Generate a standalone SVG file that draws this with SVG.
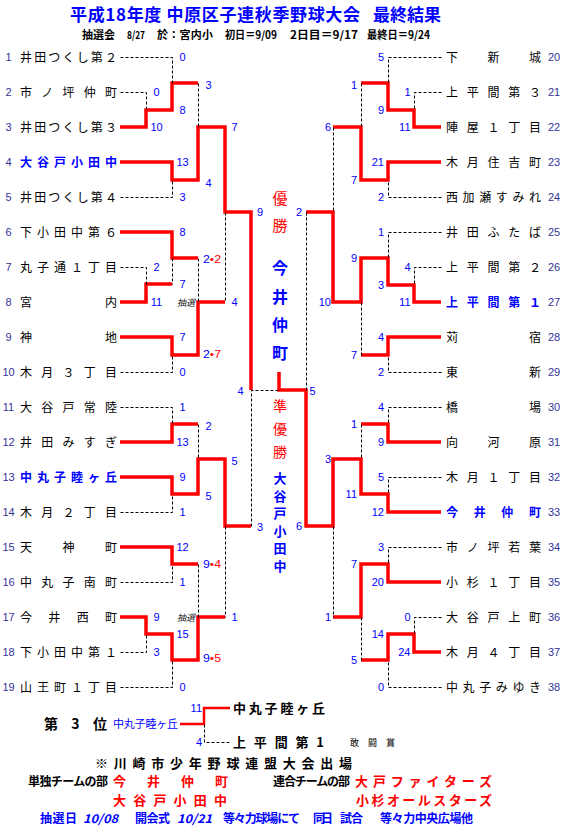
<svg xmlns="http://www.w3.org/2000/svg" width="574" height="831" viewBox="0 0 574 831">
<style>
.num{font-family:"Liberation Sans",Arial,sans-serif;font-size:11px;fill:#333399;text-anchor:middle}
.nm{font-family:"Noto Sans CJK JP",sans-serif;font-size:12px;fill:#000}
.hl{fill:#00f;font-weight:bold}
.sc{font-family:"Liberation Sans",Arial,sans-serif;font-size:11px;fill:#00f}
.m{text-anchor:middle}
.e{text-anchor:end}
.rd{fill:#f00}
.win{fill:none;stroke:#f00;stroke-width:3.5;stroke-linejoin:miter}
.lose{fill:none;stroke:#000;stroke-width:1;stroke-dasharray:3 2}
.lot{font-family:"Noto Sans CJK JP",sans-serif;font-size:9px;font-style:italic;fill:#222;text-anchor:middle}
.title{font-family:"Noto Sans CJK JP",sans-serif;font-size:17px;font-weight:bold;fill:#00f}
.sub{font-family:"Noto Sans CJK JP",sans-serif;font-size:11px;font-weight:bold;fill:#000}
.vt{font-family:"Noto Sans CJK JP",sans-serif;text-anchor:middle}
.bt{font-family:"Noto Sans CJK JP",sans-serif;font-weight:bold}
</style>
<rect width="574" height="831" fill="#fff"/>

<g id="header">
<text class="title" x="70" y="21" textLength="290" lengthAdjust="spacing">平成18年度 中原区子連秋季野球大会</text>
<text class="title" x="373" y="21" textLength="68" lengthAdjust="spacing">最終結果</text>
<text class="sub" x="82" y="39" textLength="33" lengthAdjust="spacing">抽選会</text>
<text class="sub" x="127" y="39" textLength="18" lengthAdjust="spacingAndGlyphs">8/27</text>
<text class="sub" x="157" y="39" textLength="56" lengthAdjust="spacing">於：宮内小</text>
<text class="sub" x="225" y="39" textLength="52" lengthAdjust="spacingAndGlyphs">初日＝9/09</text>
<text class="sub" x="290" y="39" textLength="68" lengthAdjust="spacingAndGlyphs">2日目＝9/17</text>
<text class="sub" x="367" y="39" textLength="63" lengthAdjust="spacingAndGlyphs">最終日＝9/24</text>
</g>

<g id="connectors">
<g id="winner-lines">
<path class="win" d="M120,127H146V110H172V83H198"/>
<path class="win" d="M120,162H172V180H198V127H225V212H251V390"/>
<path class="win" d="M120,232H172V258H198"/>
<path class="win" d="M120,302H146V284H172"/>
<path class="win" d="M120,337H172V355H198V302H225"/>
<path class="win" d="M120,442H172V424H198"/>
<path class="win" d="M120,477H172V494H198V459H225V526H251"/>
<path class="win" d="M120,547H172V564H198"/>
<path class="win" d="M120,617H146V634H172V660H198V617H225"/>
<path class="win" d="M279,372V390H306V526H333V459H361V494H388V512H441"/>
<path class="win" d="M441,127H414V110H388V83H361"/>
<path class="win" d="M441,162H388V180H361V127H333"/>
<path class="win" d="M441,302H414V285H388V258H361V302H333V212H306"/>
<path class="win" d="M441,337H388V355H361"/>
<path class="win" d="M441,442H388V424H361"/>
<path class="win" d="M441,582H388V564H361V617H333"/>
<path class="win" d="M441,652H414V634H388V660H361"/>
<path class="win" style="stroke-width:2.5" d="M180,724H204V708H230"/>
</g>
<g id="loser-lines" transform="translate(0.5,0.5)">
<path class="lose" d="M120,57H172V83"/>
<path class="lose" d="M120,92H146V110"/>
<path class="lose" d="M120,197H172V180"/>
<path class="lose" d="M198,83V127"/>
<path class="lose" d="M225,212V302"/>
<path class="lose" d="M120,267H146V284"/>
<path class="lose" d="M172,258V284"/>
<path class="lose" d="M120,372H172V355"/>
<path class="lose" d="M198,258V302"/>
<path class="lose" d="M251,526V390H279"/>
<path class="lose" d="M120,407H172V424"/>
<path class="lose" d="M120,512H172V494"/>
<path class="lose" d="M198,424V459"/>
<path class="lose" d="M225,526V617"/>
<path class="lose" d="M120,582H172V564"/>
<path class="lose" d="M120,652H146V634"/>
<path class="lose" d="M120,687H172V660"/>
<path class="lose" d="M198,564V617"/>
<path class="lose" d="M441,57H388V83"/>
<path class="lose" d="M441,92H414V110"/>
<path class="lose" d="M441,197H388V180"/>
<path class="lose" d="M361,83V127"/>
<path class="lose" d="M333,127V212"/>
<path class="lose" d="M306,212V390"/>
<path class="lose" d="M441,232H388V258"/>
<path class="lose" d="M441,267H414V285"/>
<path class="lose" d="M441,372H388V355"/>
<path class="lose" d="M361,302V355"/>
<path class="lose" d="M441,407H388V424"/>
<path class="lose" d="M441,477H388V494"/>
<path class="lose" d="M361,424V459"/>
<path class="lose" d="M333,526V617"/>
<path class="lose" d="M441,547H388V564"/>
<path class="lose" d="M441,617H414V634"/>
<path class="lose" d="M441,687H388V660"/>
<path class="lose" d="M361,617V660"/>
<path class="lose" d="M204,724V742H230"/>
</g>
</g>

<g id="teams-left">
<g id="t1"><text class="num" x="8.5" y="61">1</text><text class="nm" x="20" y="61.5" textLength="97" lengthAdjust="spacing">井田つくし第２</text></g>
<g id="t2"><text class="num" x="8.5" y="96">2</text><text class="nm" x="20" y="96.5" textLength="97" lengthAdjust="spacing">市ノ坪仲町</text></g>
<g id="t3"><text class="num" x="8.5" y="131">3</text><text class="nm" x="20" y="131.5" textLength="97" lengthAdjust="spacing">井田つくし第３</text></g>
<g id="t4"><text class="num" x="8.5" y="166">4</text><text class="nm hl" x="20" y="166.5" textLength="97" lengthAdjust="spacing">大谷戸小田中</text></g>
<g id="t5"><text class="num" x="8.5" y="201">5</text><text class="nm" x="20" y="201.5" textLength="97" lengthAdjust="spacing">井田つくし第４</text></g>
<g id="t6"><text class="num" x="8.5" y="236">6</text><text class="nm" x="20" y="236.5" textLength="97" lengthAdjust="spacing">下小田中第６</text></g>
<g id="t7"><text class="num" x="8.5" y="271">7</text><text class="nm" x="20" y="271.5" textLength="97" lengthAdjust="spacing">丸子通１丁目</text></g>
<g id="t8"><text class="num" x="8.5" y="306">8</text><text class="nm" x="20" y="306.5" textLength="97" lengthAdjust="spacing">宮内</text></g>
<g id="t9"><text class="num" x="8.5" y="341">9</text><text class="nm" x="20" y="341.5" textLength="97" lengthAdjust="spacing">神地</text></g>
<g id="t10"><text class="num" x="8.5" y="376">10</text><text class="nm" x="20" y="376.5" textLength="97" lengthAdjust="spacing">木月３丁目</text></g>
<g id="t11"><text class="num" x="8.5" y="411">11</text><text class="nm" x="20" y="411.5" textLength="97" lengthAdjust="spacing">大谷戸常陸</text></g>
<g id="t12"><text class="num" x="8.5" y="446">12</text><text class="nm" x="20" y="446.5" textLength="97" lengthAdjust="spacing">井田みすぎ</text></g>
<g id="t13"><text class="num" x="8.5" y="481">13</text><text class="nm hl" x="20" y="481.5" textLength="97" lengthAdjust="spacing">中丸子睦ヶ丘</text></g>
<g id="t14"><text class="num" x="8.5" y="516">14</text><text class="nm" x="20" y="516.5" textLength="97" lengthAdjust="spacing">木月２丁目</text></g>
<g id="t15"><text class="num" x="8.5" y="551">15</text><text class="nm" x="20" y="551.5" textLength="97" lengthAdjust="spacing">天神町</text></g>
<g id="t16"><text class="num" x="8.5" y="586">16</text><text class="nm" x="20" y="586.5" textLength="97" lengthAdjust="spacing">中丸子南町</text></g>
<g id="t17"><text class="num" x="8.5" y="621">17</text><text class="nm" x="20" y="621.5" textLength="97" lengthAdjust="spacing">今井西町</text></g>
<g id="t18"><text class="num" x="8.5" y="656">18</text><text class="nm" x="20" y="656.5" textLength="97" lengthAdjust="spacing">下小田中第１</text></g>
<g id="t19"><text class="num" x="8.5" y="691">19</text><text class="nm" x="20" y="691.5" textLength="97" lengthAdjust="spacing">山王町１丁目</text></g>
</g>

<g id="teams-right">
<g id="t20"><text class="nm" x="446" y="61.5" textLength="95" lengthAdjust="spacing">下新城</text><text class="num" x="554" y="61">20</text></g>
<g id="t21"><text class="nm" x="446" y="96.5" textLength="95" lengthAdjust="spacing">上平間第３</text><text class="num" x="554" y="96">21</text></g>
<g id="t22"><text class="nm" x="446" y="131.5" textLength="95" lengthAdjust="spacing">陣屋１丁目</text><text class="num" x="554" y="131">22</text></g>
<g id="t23"><text class="nm" x="446" y="166.5" textLength="95" lengthAdjust="spacing">木月住吉町</text><text class="num" x="554" y="166">23</text></g>
<g id="t24"><text class="nm" x="446" y="201.5" textLength="95" lengthAdjust="spacing">西加瀬すみれ</text><text class="num" x="554" y="201">24</text></g>
<g id="t25"><text class="nm" x="446" y="236.5" textLength="95" lengthAdjust="spacing">井田ふたば</text><text class="num" x="554" y="236">25</text></g>
<g id="t26"><text class="nm" x="446" y="271.5" textLength="95" lengthAdjust="spacing">上平間第２</text><text class="num" x="554" y="271">26</text></g>
<g id="t27"><text class="nm hl" x="446" y="306.5" textLength="95" lengthAdjust="spacing">上平間第１</text><text class="num" x="554" y="306">27</text></g>
<g id="t28"><text class="nm" x="446" y="341.5" textLength="95" lengthAdjust="spacing">苅宿</text><text class="num" x="554" y="341">28</text></g>
<g id="t29"><text class="nm" x="446" y="376.5" textLength="95" lengthAdjust="spacing">東新</text><text class="num" x="554" y="376">29</text></g>
<g id="t30"><text class="nm" x="446" y="411.5" textLength="95" lengthAdjust="spacing">橋場</text><text class="num" x="554" y="411">30</text></g>
<g id="t31"><text class="nm" x="446" y="446.5" textLength="95" lengthAdjust="spacing">向河原</text><text class="num" x="554" y="446">31</text></g>
<g id="t32"><text class="nm" x="446" y="481.5" textLength="95" lengthAdjust="spacing">木月１丁目</text><text class="num" x="554" y="481">32</text></g>
<g id="t33"><text class="nm hl" x="446" y="516.5" textLength="95" lengthAdjust="spacing">今井仲町</text><text class="num" x="554" y="516">33</text></g>
<g id="t34"><text class="nm" x="446" y="551.5" textLength="95" lengthAdjust="spacing">市ノ坪若葉</text><text class="num" x="554" y="551">34</text></g>
<g id="t35"><text class="nm" x="446" y="586.5" textLength="95" lengthAdjust="spacing">小杉１丁目</text><text class="num" x="554" y="586">35</text></g>
<g id="t36"><text class="nm" x="446" y="621.5" textLength="95" lengthAdjust="spacing">大谷戸上町</text><text class="num" x="554" y="621">36</text></g>
<g id="t37"><text class="nm" x="446" y="656.5" textLength="95" lengthAdjust="spacing">木月４丁目</text><text class="num" x="554" y="656">37</text></g>
<g id="t38"><text class="nm" x="446" y="691.5" textLength="95" lengthAdjust="spacing">中丸子みゆき</text><text class="num" x="554" y="691">38</text></g>
</g>

<g id="scores-left" class="sc m">
<text x="182.5" y="61">0</text><text x="156.5" y="96">0</text><text x="156.5" y="131">10</text><text x="182.5" y="114">8</text><text x="208.5" y="89">3</text>
<text x="182.5" y="166">13</text><text x="182.5" y="201">3</text><text x="208.5" y="187">4</text><text x="234.5" y="131">7</text><text x="260" y="216">9</text>
<text x="182.5" y="236">8</text><text x="156.5" y="271">2</text><text x="156.5" y="306">11</text><text x="182.5" y="288">7</text>
<text x="182.5" y="341">7</text><text x="182.5" y="376">0</text><text x="234.5" y="306">4</text>
<text x="182.5" y="411">1</text><text x="182.5" y="446">13</text><text x="208.5" y="430">2</text><text x="182.5" y="481">9</text><text x="182.5" y="516">1</text>
<text x="208.5" y="500">5</text><text x="234.5" y="465">5</text><text x="260" y="531">3</text>
<text x="182.5" y="551">12</text><text x="182.5" y="586">1</text><text x="156.5" y="621">9</text><text x="156.5" y="656">3</text><text x="182.5" y="638">15</text>
<text x="182.5" y="691">0</text><text x="234.5" y="621">1</text>
<text x="240.5" y="395">4</text><text x="312.5" y="395">5</text>
</g>
<g id="scores-lottery" class="sc">
<text x="203" y="263" textLength="18" lengthAdjust="spacingAndGlyphs">2<tspan class="rd">•2</tspan></text>
<text x="203" y="358" textLength="18" lengthAdjust="spacingAndGlyphs">2<tspan class="rd">•7</tspan></text>
<text x="203" y="568" textLength="18" lengthAdjust="spacingAndGlyphs">9<tspan class="rd">•4</tspan></text>
<text x="203" y="662" textLength="18" lengthAdjust="spacingAndGlyphs">9<tspan class="rd">•5</tspan></text>
<text class="lot" x="186" y="305.5">抽選</text>
<text class="lot" x="186" y="620.5">抽選</text>
</g>
<g id="scores-right" class="sc e">
<text x="384" y="61">5</text><text x="410.5" y="96">1</text><text x="410.5" y="131">11</text><text x="384" y="114">9</text><text x="357" y="89">1</text>
<text x="384" y="166">21</text><text x="384" y="201">2</text><text x="357" y="184">7</text><text x="331" y="131">6</text><text x="302" y="216">2</text>
<text x="384" y="236">1</text><text x="410.5" y="271">4</text><text x="410.5" y="306">11</text><text x="384" y="289">3</text><text x="357" y="262">9</text>
<text x="384" y="341">4</text><text x="384" y="376">2</text><text x="357" y="359">7</text><text x="331" y="306">10</text>
<text x="384" y="411">4</text><text x="384" y="446">9</text><text x="357" y="428">1</text><text x="384" y="481">5</text><text x="384" y="516">12</text>
<text x="357" y="498">11</text><text x="331" y="463">3</text><text x="302" y="530">6</text>
<text x="384" y="551">3</text><text x="384" y="586">20</text><text x="357" y="568">7</text><text x="410.5" y="621">0</text><text x="410.5" y="656">24</text>
<text x="384" y="638">14</text><text x="384" y="691">0</text><text x="357" y="664">5</text><text x="331" y="621">1</text>
</g>

<g id="champion">
<g class="vt" fill="#f00" font-size="15"><text x="280" y="203.5">優</text><text x="280" y="230.5">勝</text></g>
<g class="vt" fill="#00f" font-size="16" font-weight="bold"><text x="280" y="274">今</text><text x="280" y="303">井</text><text x="280" y="331">仲</text><text x="280" y="359">町</text></g>
</g>
<g id="runner-up">
<g class="vt" fill="#f00" font-size="14"><text x="280" y="411">準</text><text x="280" y="434">優</text><text x="280" y="457">勝</text></g>
<g class="vt" fill="#00f" font-size="13" font-weight="bold"><text x="280" y="482.5">大</text><text x="280" y="500.5">谷</text><text x="280" y="518">戸</text><text x="280" y="535.5">小</text><text x="280" y="553">田</text><text x="280" y="570.5">中</text></g>
</g>

<g id="third-place">
<text class="sc e" x="202" y="712">11</text>
<text class="sc e" x="202" y="746">4</text>
<text class="bt" x="233" y="713" font-size="13" textLength="92" lengthAdjust="spacing">中丸子睦ヶ丘</text>
<text class="bt" x="44" y="729" font-size="14" textLength="63" lengthAdjust="spacing">第 3 位</text>
<text class="bt" x="113" y="728" font-size="11" fill="#00f" textLength="65" lengthAdjust="spacing" style="font-weight:normal">中丸子睦ヶ丘</text>
<text class="bt" x="233" y="747" font-size="13" textLength="91" lengthAdjust="spacing">上平間第1</text>
<text class="bt" x="350" y="745.5" font-size="9" textLength="45" lengthAdjust="spacing" style="font-weight:normal">敢闘賞</text>
</g>

<g id="footer">
<text class="bt" x="95" y="768" font-size="13" textLength="257" lengthAdjust="spacing">※川崎市少年野球連盟大会出場</text>
<text class="bt" x="28" y="785.5" font-size="12" textLength="80" lengthAdjust="spacing">単独チームの部</text>
<text class="bt" x="113" y="786" font-size="13" fill="#f00" textLength="115" lengthAdjust="spacing">今井仲町</text>
<text class="bt" x="273" y="785.5" font-size="12" textLength="77" lengthAdjust="spacing">連合チームの部</text>
<text class="bt" x="355" y="786" font-size="13" fill="#f00" textLength="137" lengthAdjust="spacing">大戸ファイターズ</text>
<text class="bt" x="113" y="805" font-size="13" fill="#f00" textLength="114" lengthAdjust="spacing">大谷戸小田中</text>
<text class="bt" x="356" y="805" font-size="13" fill="#f00" textLength="136" lengthAdjust="spacing">小杉オールスターズ</text>
<g class="bt" font-size="12" fill="#00f">
<text x="40" y="822.5" textLength="37" lengthAdjust="spacing">抽選日</text>
<text x="83" y="822.5" font-style="italic" textLength="35" lengthAdjust="spacingAndGlyphs">10/08</text>
<text x="135" y="822.5" textLength="35" lengthAdjust="spacing">開会式</text>
<text x="177" y="822.5" font-style="italic" textLength="35" lengthAdjust="spacingAndGlyphs">10/21</text>
<text x="223" y="822.5" textLength="77" lengthAdjust="spacing">等々力球場にて</text>
<text x="313" y="822.5" textLength="20" lengthAdjust="spacing">同日</text>
<text x="340" y="822.5" textLength="23" lengthAdjust="spacing">試合</text>
<text x="380" y="822.5" textLength="93" lengthAdjust="spacing">等々力中央広場他</text>
</g>
</g>
</svg>
